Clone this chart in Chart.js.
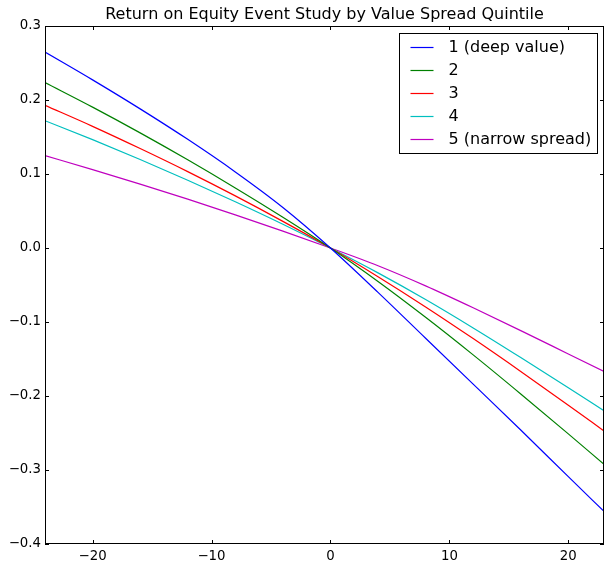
<!DOCTYPE html>
<html>
<head>
<meta charset="utf-8">
<title>ROE event study</title>
<script src="https://cdn.jsdelivr.net/npm/chart.js@4.4.1/dist/chart.umd.min.js"></script>
<style>
  html, body { margin: 0; padding: 0; background: #fff; }
  #wrap { width: 613px; height: 569px; }
</style>
</head>
<body>
<div id="wrap"><canvas id="roeChart" width="613" height="569"></canvas></div>
<script>
// Event-time grid (days relative to event) and cumulative ROE per quintile
const eventDays = [-24, -20, -16, -12, -8, -4, 0, 4, 8, 12, 16, 20, 23];
const q1DeepValue = [0.2648, 0.2272, 0.188, 0.1468, 0.1028, 0.0548, 0, -0.060, -0.122, -0.184, -0.246, -0.309, -0.356];
const q2 = [0.2236, 0.1904, 0.1556, 0.1192, 0.0812, 0.0416, 0, -0.0452, -0.0936, -0.1444, -0.1972, -0.2512, -0.2923];
const q3 = [0.1928, 0.1644, 0.1344, 0.1032, 0.0704, 0.036, 0, -0.0388, -0.0796, -0.1224, -0.1668, -0.2124, -0.2472];
const q4 = [0.172, 0.1464, 0.1196, 0.0916, 0.0624, 0.032, 0, -0.0336, -0.0696, -0.108, -0.148, -0.1888, -0.22];
const q5NarrowSpread = [0.1248, 0.106, 0.0864, 0.066, 0.0448, 0.0228, 0, -0.024, -0.0512, -0.0808, -0.1116, -0.1432, -0.1669];

const seriesLabels = ['1 (deep value)', '2', '3', '4', '5 (narrow spread)'];
const seriesValues = [q1DeepValue, q2, q3, q4, q5NarrowSpread];
const seriesColors = ['#0000ff', '#008000', '#ff0000', '#00bfbf', '#bf00bf'];

const xTicks = [-20, -10, 0, 10, 20];
const yTicks = [-0.4, -0.3, -0.2, -0.1, 0.0, 0.1, 0.2, 0.3];
const chartTitle = 'Return on Equity Event Study by Value Spread Quintile';

const FONT = '"DejaVu Sans", sans-serif';

function fmtTick(v, digits) {
  const s = Math.abs(v).toFixed(digits);
  return (v < 0 && Math.abs(v) > 1e-9 ? '\u2212' : '') + s;
}

// Box frame, inward tick marks, title and boxed legend
const framePlugin = {
  id: 'frame',
  afterDatasetsDraw(chart) {
    const { ctx, chartArea: a, scales: { x, y } } = chart;
    ctx.save();
    ctx.strokeStyle = '#000';
    ctx.lineWidth = 1;
    ctx.strokeRect(Math.round(a.left) + 0.5, Math.round(a.top) + 0.5,
      Math.round(a.right - a.left) - 1, Math.round(a.bottom - a.top) - 1);
    const len = 4;
    ctx.beginPath();
    xTicks.forEach(v => {
      const px = Math.round(x.getPixelForValue(v)) + 0.5;
      ctx.moveTo(px, a.bottom); ctx.lineTo(px, a.bottom - len);
      ctx.moveTo(px, a.top); ctx.lineTo(px, a.top + len);
    });
    yTicks.forEach(v => {
      const py = Math.round(y.getPixelForValue(v)) + 0.5;
      ctx.moveTo(a.left, py); ctx.lineTo(a.left + len, py);
      ctx.moveTo(a.right, py); ctx.lineTo(a.right - len, py);
    });
    ctx.stroke();

    // title centred over the axes
    ctx.fillStyle = '#000';
    ctx.font = '16px ' + FONT;
    ctx.textAlign = 'center';
    ctx.textBaseline = 'middle';
    ctx.fillText(chartTitle, (a.left + a.right) / 2, 15);
    ctx.restore();
  },
  afterDraw(chart) {
    const { ctx, chartArea: a } = chart;
    const boxW = 198, rowH = 23;
    const bx = Math.round(a.right - 7 - boxW) + 0.5;
    const by = Math.round(a.top + 7) + 0.5;
    const boxH = rowH * seriesLabels.length + 5;
    ctx.save();
    ctx.fillStyle = '#fff';
    ctx.fillRect(bx, by, boxW, boxH);
    ctx.strokeStyle = '#000';
    ctx.lineWidth = 1;
    ctx.strokeRect(bx, by, boxW, boxH);
    ctx.font = '16px ' + FONT;
    ctx.textAlign = 'left';
    ctx.textBaseline = 'middle';
    chart.data.datasets.forEach((ds, i) => {
      const cy = by + 14 + i * rowH;
      ctx.strokeStyle = ds.borderColor;
      ctx.lineWidth = 1.2;
      ctx.beginPath();
      ctx.moveTo(bx + 11, cy);
      ctx.lineTo(bx + 34, cy);
      ctx.stroke();
      ctx.fillStyle = '#000';
      ctx.fillText(ds.label, bx + 49, cy);
    });
    ctx.restore();
  }
};

const datasets = seriesLabels.map((label, i) => ({
  label: label,
  data: eventDays.map((d, j) => ({ x: d, y: seriesValues[i][j] })),
  borderColor: seriesColors[i],
  backgroundColor: seriesColors[i],
  borderWidth: 1.2,
  pointRadius: 0,
  fill: false,
  cubicInterpolationMode: 'monotone',
}));

new Chart(document.getElementById('roeChart'), {
  type: 'line',
  data: { datasets: datasets },
  options: {
    responsive: false,
    animation: false,
    layout: { padding: { top: 26, right: 9, left: 0, bottom: 0 } },
    plugins: {
      legend: { display: false },
      title: { display: false },
      tooltip: { enabled: false },
    },
    scales: {
      x: {
        type: 'linear',
        min: -24,
        max: 23,
        grid: { display: false, drawTicks: false },
        border: { display: false },
        afterBuildTicks: (s) => { s.ticks = xTicks.map(v => ({ value: v })); },
        afterFit: (s) => { s.height = 25; },
        ticks: {
          color: '#000',
          padding: 5,
          maxRotation: 0,
          autoSkip: false,
          font: { family: FONT, size: 13.3 },
          callback: (v) => fmtTick(v, 0),
        },
      },
      y: {
        type: 'linear',
        min: -0.4,
        max: 0.3,
        grid: { display: false, drawTicks: false },
        border: { display: false },
        afterBuildTicks: (s) => { s.ticks = yTicks.map(v => ({ value: v })); },
        afterFit: (s) => { s.width = 45; },
        ticks: {
          color: '#000',
          padding: 4,
          autoSkip: false,
          font: { family: FONT, size: 13.3 },
          callback: (v) => fmtTick(v, 1),
        },
      },
    },
  },
  plugins: [framePlugin],
});
</script>
</body>
</html>
